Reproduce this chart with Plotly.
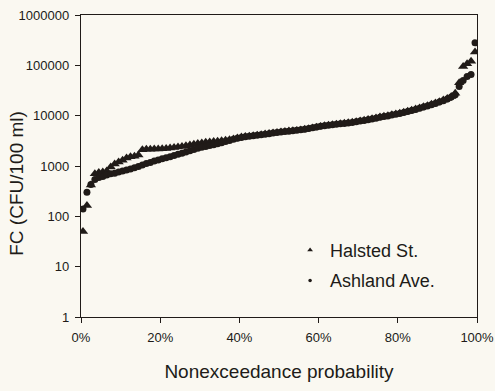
import plotly.graph_objects as go

# Fecal coliform concentrations (CFU/100 ml), sorted ascending, one per sample
halsted_fc = [
    50, 165, 420, 700, 740, 760, 800, 950, 1100, 1200,
    1300, 1450, 1520, 1560, 1650, 2100, 2150, 2150, 2170, 2180,
    2200, 2230, 2280, 2330, 2380, 2450, 2520, 2600, 2700, 2800,
    2880, 2950, 3000, 3050, 3100, 3180, 3250, 3330, 3450, 3600,
    3750, 3850, 3900, 4000, 4100, 4200, 4300, 4400, 4550, 4650,
    4750, 4850, 4950, 5000, 5100, 5200, 5350, 5500, 5700, 5900,
    6100, 6300, 6450, 6600, 6750, 6900, 7050, 7200, 7400, 7600,
    7850, 8100, 8400, 8700, 9000, 9400, 9700, 10000, 10400, 10800,
    11200, 11700, 12200, 12800, 13500, 14200, 15000, 15800, 16800, 17800,
    19000, 20500, 22000, 24000, 28000, 45000, 95000, 108000, 120000, 185000,
]

ashland_fc = [
    140, 300, 430, 540, 590, 620, 660, 700, 720, 760,
    800, 830, 870, 920, 980, 1050, 1120, 1180, 1250, 1320,
    1400, 1460, 1530, 1620, 1720, 1800, 1900, 2000, 2120, 2240,
    2350, 2450, 2550, 2650, 2780, 2900, 3050, 3200, 3400, 3550,
    3700, 3800, 3900, 3980, 4080, 4180, 4280, 4380, 4500, 4620,
    4720, 4820, 4920, 5020, 5120, 5250, 5400, 5550, 5750, 5950,
    6150, 6300, 6450, 6600, 6750, 6900, 7000, 7150, 7350, 7550,
    7800, 8000, 8300, 8600, 8900, 9300, 9600, 9900, 10300, 10700,
    11100, 11600, 12100, 12600, 13300, 14000, 14800, 15600, 16500, 17500,
    18600, 19800, 21500, 23500, 26000, 38000, 50000, 60000, 66000, 280000,
]

series_names = ["Halsted St.", "Ashland Ave."]
y_ticks = [1, 10, 100, 1000, 10000, 100000, 1000000]
y_tick_labels = ["1", "10", "100", "1000", "10000", "100000", "1000000"]
x_ticks = [0, 0.2, 0.4, 0.6, 0.8, 1.0]
x_tick_labels = ["0%", "20%", "40%", "60%", "80%", "100%"]


def nonexceedance(values):
    # Hazen plotting position for ranked samples
    n = len(values)
    return [(i + 0.5) / n for i in range(n)]


ink = "#201b18"
paper = "#faf8f1"
font = "Liberation Sans, Arial, sans-serif"
symbols = ["triangle-up", "circle"]
sizes = [9, 7]
key_sizes = [5, 3.5]

fig = go.Figure()
for name, vals, sym, sz, ksz in zip(series_names, [halsted_fc, ashland_fc],
                                    symbols, sizes, key_sizes):
    # data trace (large overlapping markers form the thick band)
    fig.add_trace(go.Scatter(
        x=nonexceedance(vals), y=vals, mode="markers", showlegend=False,
        marker=dict(symbol=sym, size=sz, color=ink),
    ))
    # small legend key
    fig.add_trace(go.Scatter(
        x=[None], y=[None], mode="markers", name=name, legendgroup=name,
        marker=dict(symbol=sym, size=ksz, color=ink),
    ))

fig.update_layout(
    width=495, height=391,
    margin=dict(l=81, r=18, t=15, b=74),
    paper_bgcolor=paper, plot_bgcolor=paper,
    font=dict(family=font, color=ink),
    showlegend=True,
    legend=dict(
        x=0.528, y=0.282, xanchor="left", yanchor="top",
        bgcolor="rgba(0,0,0,0)", font=dict(size=18),
        traceorder="grouped", tracegroupgap=4,
    ),
    annotations=[dict(
        text="FC (CFU/100 ml)", xref="paper", yref="paper",
        x=-0.162, y=0.444, xanchor="center", yanchor="middle",
        textangle=-90, showarrow=False, font=dict(size=19, color=ink),
    )],
)
fig.update_xaxes(
    range=[0, 1], tickvals=x_ticks, ticktext=x_tick_labels,
    ticks="outside", ticklen=5, tickcolor=ink, tickfont=dict(size=13),
    ticklabelstandoff=3,
    showline=True, linecolor=ink, linewidth=1.4, mirror=True,
    showgrid=False, zeroline=False, automargin=False,
    title=dict(text="Nonexceedance probability", font=dict(size=19), standoff=20),
)
fig.update_yaxes(
    type="log", range=[0, 6], tickvals=y_ticks, ticktext=y_tick_labels,
    ticks="outside", ticklen=5, tickcolor=ink, tickfont=dict(size=13),
    ticklabelstandoff=3,
    showline=True, linecolor=ink, linewidth=1.4, mirror=True,
    showgrid=False, zeroline=False, automargin=False,
)

fig.write_html("out.html")
